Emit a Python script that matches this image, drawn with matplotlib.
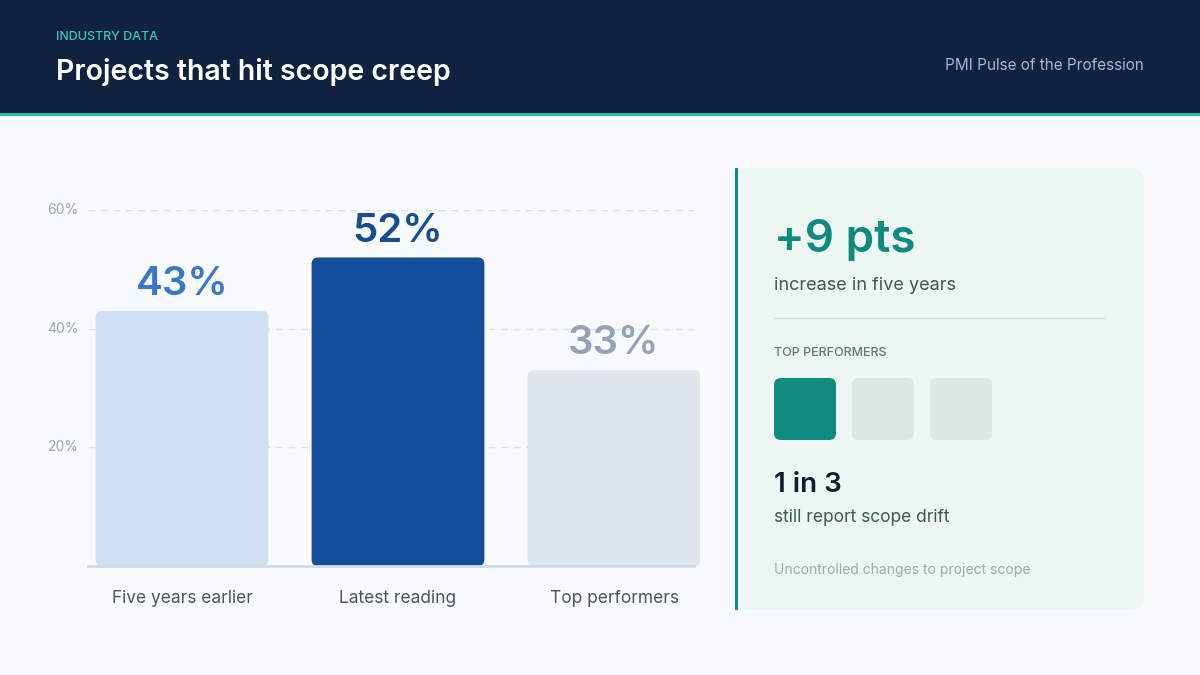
import matplotlib
matplotlib.use("Agg")
import matplotlib.pyplot as plt
from matplotlib.patches import FancyBboxPatch, Rectangle

plt.rcParams['font.family'] = ['Inter', 'DejaVu Sans']

# data
categories = ["Five years earlier", "Latest reading", "Top performers"]
values = [43, 52, 33]
bar_colors = ["#cfdff2", "#154e96", "#e0e6ed"]
label_colors = ["#3a78c9", "#154e96", "#94a3b8"]
yticks = [20, 40, 60]

fig = plt.figure(figsize=(12, 6.75), dpi=100)
fig.patch.set_facecolor("#f8fafc")

# overlay in pixel coordinates for the decorations
bg = fig.add_axes([0, 0, 1, 1])
bg.set_xlim(0, 1200)
bg.set_ylim(675, 0)
bg.axis("off")
bg.add_patch(Rectangle((0, 0), 1200, 113, color="#0f2340", lw=0))
bg.add_patch(Rectangle((0, 113), 1200, 3, color="#2fb8a6", lw=0))
bg.text(56, 37, "INDUSTRY DATA", color="#3cc8b4", fontsize=9, va="center", fontweight="medium")
bg.text(56, 72, "Projects that hit scope creep", color="white", fontsize=20.5, va="center", fontweight="semibold")
bg.text(1144, 66, "PMI Pulse of the Profession", color="#a9b8c9", fontsize=11, va="center", ha="right")

# right panel
bg.add_patch(FancyBboxPatch((735, 168), 409, 442, boxstyle="round,pad=0,rounding_size=14",
                            fc="#eef6f4", ec="none"))
bg.add_patch(Rectangle((735, 168), 3, 442, color="#0f8a7e", lw=0))
bg.text(774, 240, "+9 pts", color="#0f8a7e", fontsize=33, fontweight="semibold", va="center")
bg.text(774, 285, "increase in five years", color="#3d5a55", fontsize=13, va="center")
bg.plot([774, 1104], [318, 318], color="#cde3df", lw=1)
bg.text(774, 353, "TOP PERFORMERS", color="#5f7a75", fontsize=9, va="center", fontweight="medium")
for i, c in enumerate(["#0f8a7e", "#dbe8e4", "#dbe8e4"]):
    bg.add_patch(FancyBboxPatch((774 + i * 78, 378), 62, 62, boxstyle="round,pad=0,rounding_size=7",
                                fc=c, ec="none"))
bg.text(774, 485, "1 in 3", color="#0f1d2e", fontsize=20, fontweight="semibold", va="center")
bg.text(774, 518, "still report scope drift", color="#3d5a55", fontsize=12.5, va="center")
bg.text(774, 570, "Uncontrolled changes to project scope", color="#9aaeaa", fontsize=10, va="center")

# bar chart
ax = fig.add_axes([88 / 1200, 109 / 675, 612 / 1200, 356 / 675])
ax.patch.set_alpha(0)
ax.set_xlim(-0.435, 2.398)
ax.set_ylim(0, 60)
for s in ax.spines.values():
    s.set_visible(False)
ax.set_xticks([])
ax.set_yticks([])
for t in yticks:
    ax.plot([-0.435, 2.37], [t, t], color="#dde3ea", lw=1, ls=(0, (5, 4)), zorder=0)
    ax.text(-0.48, t, f"{t}%", ha="right", va="center", color="#9aa5b4", fontsize=10)
ax.plot([-0.435, 2.37], [0, 0], color="#d3dae3", lw=2, clip_on=False, zorder=3)

for i, (v, bc, lc, cat) in enumerate(zip(values, bar_colors, label_colors, categories)):
    ax.add_patch(FancyBboxPatch((i - 0.4, 0), 0.8, v,
                                boxstyle="round,pad=0,rounding_size=0.03",
                                mutation_aspect=36.6, fc=bc, ec="none", zorder=2))
    ax.text(i, v + 1.3, f"{v}%", ha="center", va="bottom", color=lc, fontsize=29,
            fontweight="semibold", clip_on=False)
    ax.text(i, -5.4, cat, ha="center", va="center", color="#4b5563", fontsize=12.5, clip_on=False)

fig.savefig("out.png", dpi=100, facecolor=fig.get_facecolor())
